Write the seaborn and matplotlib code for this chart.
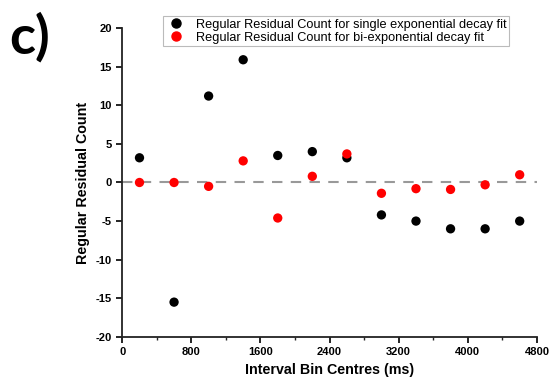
import matplotlib
matplotlib.use("Agg")
import matplotlib.pyplot as plt
import seaborn as sns
import pandas as pd
from matplotlib.ticker import MultipleLocator

bin_centres = [200, 600, 1000, 1400, 1800, 2200, 2600, 3000, 3400, 3800, 4200, 4600]
single_exp = [3.2, -15.5, 11.2, 15.9, 3.5, 4.0, 3.2, -4.2, -5.0, -6.0, -6.0, -5.0]
bi_exp = [0.0, 0.0, -0.5, 2.8, -4.6, 0.8, 3.7, -1.4, -0.8, -0.9, -0.3, 1.0]
series_labels = ["Regular Residual Count for single exponential decay fit",
                 "Regular Residual Count for bi-exponential decay fit"]
x_ticks = [0, 800, 1600, 2400, 3200, 4000, 4800]
y_ticks = [-20, -15, -10, -5, 0, 5, 10, 15, 20]

df = pd.DataFrame({
    "x": bin_centres * 2,
    "y": single_exp + bi_exp,
    "series": [series_labels[0]] * len(bin_centres) + [series_labels[1]] * len(bin_centres),
})

sns.set_style("ticks")
plt.rcParams['font.family'] = ['Liberation Sans', 'DejaVu Sans']
plt.rcParams['axes.unicode_minus'] = False
plt.rcParams['text.color'] = 'black'
plt.rcParams['axes.labelcolor'] = 'black'

fig = plt.figure(figsize=(5.53, 3.85), dpi=100)
ax = fig.add_axes([0.221, 0.125, 0.75, 0.802])

ax.axhline(0, color="#999999", linestyle=(0, (5, 4)), linewidth=1.5, zorder=1)
sns.scatterplot(data=df, x="x", y="y", hue="series",
                palette={series_labels[0]: "black", series_labels[1]: "#ff0000"},
                s=45, edgecolor="none", ax=ax, zorder=3, legend=False)

ax.set_xlim(0, 4800)
ax.set_ylim(-20, 20)
ax.set_xticks(x_ticks)
ax.set_yticks(y_ticks)
ax.xaxis.set_minor_locator(MultipleLocator(400))
ax.tick_params(axis="both", which="major", direction="out", length=4, width=1.2,
               labelsize=8, colors="black")
ax.tick_params(axis="x", which="minor", direction="out", length=2.5, width=1.0)
for lab in ax.get_xticklabels() + ax.get_yticklabels():
    lab.set_fontweight("bold")
for sp in ["left", "bottom"]:
    ax.spines[sp].set_linewidth(1.3)
    ax.spines[sp].set_color("#222222")
sns.despine(ax=ax)

ax.set_xlabel("Interval Bin Centres (ms)", fontsize=10.3, fontweight="bold", labelpad=4)
ax.set_ylabel("Regular Residual Count", fontsize=10.3, fontweight="bold", labelpad=4)

handles = [
    plt.Line2D([], [], marker="o", linestyle="none", color="black", markersize=6.5),
    plt.Line2D([], [], marker="o", linestyle="none", color="#ff0000", markersize=6.5),
]
leg = fig.legend(handles, series_labels, loc="upper left",
                 bbox_to_anchor=(163 / 553, 1 - 16 / 385),
                 fontsize=9.2, frameon=True, fancybox=False, borderpad=0.2,
                 labelspacing=0.1, handletextpad=0.8, handlelength=1.6,
                 borderaxespad=0)
leg.get_frame().set_edgecolor("#aaaaaa")
leg.get_frame().set_linewidth(0.8)

fig.text(9 / 553, 1 - 12 / 385, "c)", fontsize=39, fontweight="bold", color="black",
         family=["Lato", "DejaVu Sans"], va="top", ha="left")

fig.savefig("out.png", dpi=100)
